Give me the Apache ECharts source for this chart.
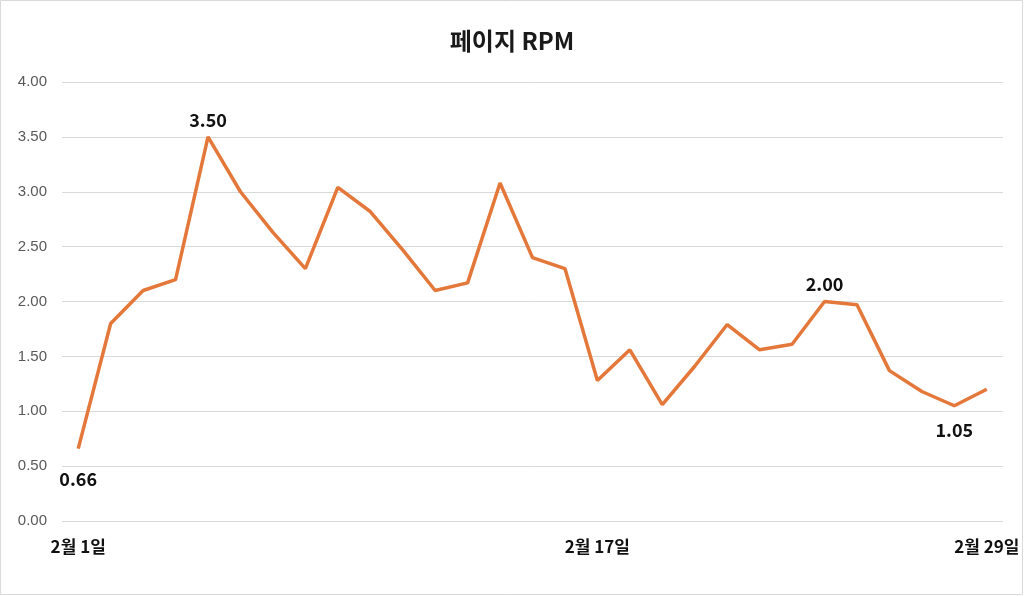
<!DOCTYPE html>
<html><head><meta charset="utf-8">
<script src="https://cdn.jsdelivr.net/npm/echarts@6/dist/echarts.min.js"></script>
<style>html,body{margin:0;padding:0;background:#fff}#c{width:1024px;height:596px}</style>
</head><body><div id="c"></div>
<script>
const days = ["2월 1일","2월 2일","2월 3일","2월 4일","2월 5일","2월 6일","2월 7일","2월 8일","2월 9일","2월 10일","2월 11일","2월 12일","2월 13일","2월 14일","2월 15일","2월 16일","2월 17일","2월 18일","2월 19일","2월 20일","2월 21일","2월 22일","2월 23일","2월 24일","2월 25일","2월 26일","2월 27일","2월 28일","2월 29일"];
const rpm = [0.66,1.80,2.10,2.20,3.50,3.00,2.63,2.30,3.04,2.82,2.47,2.10,2.17,3.08,2.40,2.30,1.28,1.56,1.06,1.41,1.79,1.56,1.61,2.00,1.97,1.37,1.18,1.05,1.20];
const shownTicks = [0,16,28];
const labelAbove = [4,23];
const labelBelow = [0,27];

const chart = echarts.init(document.getElementById('c'));
const data = rpm.map((v,i)=>{
  const d = {value:v};
  if (labelAbove.includes(i)) d.label = {show:true, position:'top', distance:8};
  if (labelBelow.includes(i)) d.label = {show:true, position:'bottom', distance: i===0 ? 22 : 15};
  return d;
});
chart.setOption({
  backgroundColor:'#fff',
  animation:false,
  title:{text:'페이지 RPM', left:'center', top:24,
    textStyle:{fontFamily:'Noto Sans CJK KR', fontWeight:'bold', fontSize:24, color:'#1a1a1a'}},
  grid:{left:62, right:21, top:82, bottom:75},
  xAxis:{type:'category', data:days, boundaryGap:true,
    axisLine:{show:false}, axisTick:{show:false},
    axisLabel:{interval:(i)=>shownTicks.includes(i), margin:17,
      fontFamily:'Noto Sans CJK KR', fontWeight:'bold', fontSize:17, color:'#111'}},
  yAxis:{type:'value', min:0, max:4, interval:0.5,
    axisLine:{show:false}, axisTick:{show:false},
    splitLine:{lineStyle:{color:'#D9D9D9', width:1}},
    axisLabel:{formatter:(v)=>v.toFixed(2), margin:15,
      fontFamily:'Liberation Sans', fontSize:15, color:'#595959'}},
  series:[{type:'line', data:data, symbol:'circle', symbolSize:0, showSymbol:true, smooth:false,
    lineStyle:{color:'#E3783A', width:3.5},
    itemStyle:{color:'#E3783A'},
    label:{show:false, formatter:(p)=>p.value.toFixed(2), distance:8,
      fontFamily:'Noto Sans CJK KR', fontWeight:'bold', fontSize:18, color:'#111'}}],
  graphic:[{type:'rect', shape:{x:0.5,y:0.5,width:1022,height:594},
    style:{fill:'none', stroke:'#D9D9D9', lineWidth:1}, silent:true}]
});
</script></body></html>
